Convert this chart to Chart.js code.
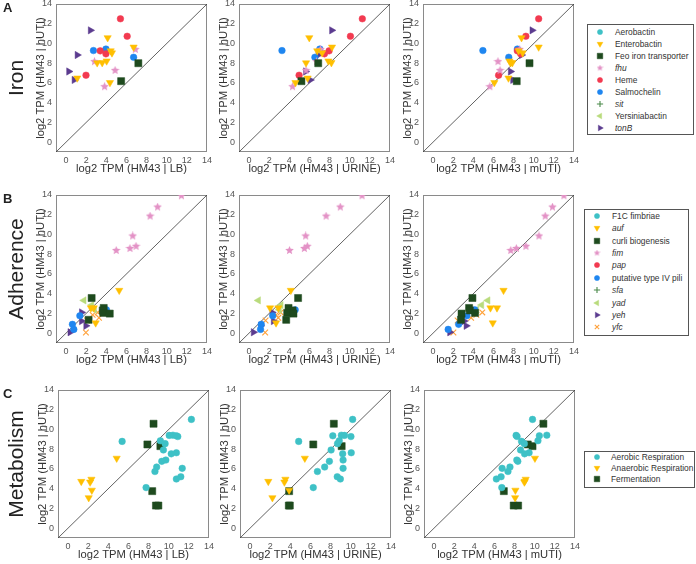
<!DOCTYPE html>
<html><head><meta charset="utf-8">
<script src="https://cdn.jsdelivr.net/npm/chart.js@4.4.1/dist/chart.umd.min.js"></script>
<style>
html,body{margin:0;padding:0;background:#fff;}
body{width:696px;height:564px;overflow:hidden;position:relative;font-family:"Liberation Sans",Arial,Helvetica,sans-serif;}
canvas.p{position:absolute;}
.rowlab{position:absolute;font-size:21px;color:#222;transform:translate(-50%,-50%) rotate(-90deg);white-space:nowrap;}
.letter{position:absolute;font-size:13px;font-weight:bold;color:#222;}
.legend{position:absolute;border:1px solid #555;box-sizing:border-box;background:#fff;}
.lt{position:absolute;font-size:8.4px;line-height:12px;color:#333;white-space:nowrap;}
</style>
</head><body>
<script>
// ---------- tick labels / axes ----------
const tickValues = [0, 2, 4, 6, 8, 10, 12, 14];
const diagonal = [-1, 14];
const conditions = ['LB', 'URINE', 'mUTI'];

// ---------- A: Iron ----------
const aerobactin_hUTI = [], aerobactin_LB = [], aerobactin_URINE = [], aerobactin_mUTI = [];
const enterobactin_hUTI  = [10.58, 9.63, 9.25, 9.04, 8.22, 8.05, 8.03, 6.49, 6.03];
const enterobactin_LB    = [4.13, 6.71, 4.43, 4.56, 4.03, 3.59, 3.09, 1.11, 4.36];
const enterobactin_URINE = [5.98, 8.24, 6.77, 7.26, 7.88, 8.18, 5.66, 5.82, 4.61];
const enterobactin_mUTI  = [8.79, 10.49, 8.5, 8.9, 7.59, 7.88, 7.7, 7.49, 6.09];
const feo_hUTI = [8.0, 6.18], feo_LB = [7.18, 5.47], feo_URINE = [6.87, 5.20], feo_mUTI = [9.58, 8.31];
const fhu_hUTI = [9.4, 8.16, 7.27, 5.62], fhu_LB = [6.88, 2.82, 4.87, 3.83];
const fhu_URINE = [7.1, 6.70, 5.66, 4.32], fhu_mUTI = [8.6, 6.45, 6.65, 5.64];
const heme_hUTI = [12.5, 10.73, 9.25, 8.95, 6.78], heme_LB = [5.40, 6.07, 3.39, 3.96, 1.98];
const heme_URINE = [11.25, 10.07, 7.95, 7.49, 4.97], heme_mUTI = [10.49, 9.22, 8.37, 8.70, 6.51];
const salmochelin_hUTI = [9.43, 9.28, 8.6], salmochelin_LB = [3.96, 2.72, 6.71];
const salmochelin_URINE = [7.03, 3.27, 6.54], salmochelin_mUTI = [8.37, 4.95, 7.52];
const sit_hUTI = [], sit_LB = [], sit_URINE = [], sit_mUTI = [];
const yersiniabactin_hUTI = [], yersiniabactin_LB = [], yersiniabactin_URINE = [], yersiniabactin_mUTI = [];
const tonB_hUTI = [11.33, 8.83, 7.16, 6.30], tonB_LB = [2.42, 1.11, 0.27, 0.81];
const tonB_URINE = [8.21, 6.87, 5.62, 6.08], tonB_mUTI = [9.84, 8.79, 7.69, 7.92];

// ---------- B: Adherence ----------
const f1c_hUTI = [], f1c_LB = [], f1c_URINE = [], f1c_mUTI = [];
const auf_hUTI = [4.33, 2.55, 2.55, 1.03], auf_LB = [5.28, 2.47, 2.75, 2.94];
const auf_URINE = [4.15, 2.09, 2.91, 2.68], auf_mUTI = [7.0, 5.70, 6.35, 5.93];
const curli_hUTI = [3.56, 2.55, 2.3, 2.05, 1.98, 1.35], curli_LB = [2.54, 3.74, 3.64, 3.7, 4.34, 2.24];
const curli_URINE = [4.87, 3.92, 4.32, 3.79, 4.41, 3.69], curli_mUTI = [3.91, 3.58, 3.65, 4.17, 2.83, 2.77];
const fim_hUTI = [13.93, 12.78, 11.86, 9.85, 8.8, 8.58, 8.38];
const fim_LB = [11.46, 9.09, 8.35, 6.62, 6.95, 6.35, 4.98];
const fim_URINE = [11.22, 9.06, 7.65, 5.62, 5.79, 5.49, 4.02];
const fim_mUTI = [13.0, 11.86, 11.14, 10.52, 9.22, 8.27, 7.72];
const pap_hUTI = [], pap_LB = [], pap_URINE = [], pap_mUTI = [];
const pili_hUTI = [2.36, 1.76, 0.89, 0.38], pili_LB = [4.01, 1.37, 0.63, 0.77];
const pili_URINE = [4.58, 2.35, 1.21, 1.14], pili_mUTI = [4.14, 3.36, 2.54, 1.50];
const sfa_hUTI = [], sfa_LB = [], sfa_URINE = [], sfa_mUTI = [];
const yad_hUTI = [3.32, 2.85, 2.38], yad_LB = [1.77, 2.55, 2.81], yad_URINE = [0.92, 3.17, 3.0], yad_mUTI = [5.44, 4.82, 4.33];
const yeh_hUTI = [2.1, 1.22, 0.74, 0.09], yeh_LB = [1.54, 1.54, 1.97, 0.40];
const yeh_URINE = [2.29, 2.42, 1.14, 0.43], yeh_mUTI = [4.14, 3.09, 3.29, 1.66];
const yfc_hUTI = [2.1, 1.85, 1.55, 1.28, 0.06], yfc_LB = [3.14, 2.64, 3.27, 2.1, 1.97];
const yfc_URINE = [3.14, 2.68, 2.9, 1.64, 1.60], yfc_mUTI = [4.89, 4.30, 3.78, 2.44, 2.02];

// ---------- C: Metabolism ----------
const aerobic_hUTI  = [11.02, 9.42, 9.40, 9.36, 9.28, 8.86, 8.79, 8.56, 7.92, 7.64, 7.53, 6.90, 6.77, 6.19, 6.06, 5.74, 5.21, 4.98, 4.11];
const aerobic_LB    = [12.25, 10.42, 10.05, 10.76, 10.90, 9.17, 5.37, 9.64, 9.47, 10.76, 10.25, 9.71, 9.31, 8.80, 11.34, 8.63, 11.20, 10.76, 7.75];
const aerobic_URINE = [10.19, 9.07, 9.38, 8.22, 10.02, 8.86, 4.83, 8.69, 8.05, 10.05, 9.20, 9.24, 7.88, 7.41, 9.24, 6.69, 8.66, 8.97, 6.28];
const aerobic_mUTI  = [9.78, 11.2, 8.15, 10.46, 8.25, 10.32, 8.69, 8.97, 8.59, 9.44, 8.99, 8.22, 8.32, 7.54, 6.76, 7.34, 6.66, 6.19, 6.73];
const anaerobic_hUTI  = [7.08, 4.95, 4.73, 4.66, 3.84, 3.08];
const anaerobic_LB    = [4.83, 2.32, 1.31, 2.19, 2.36, 2.05];
const anaerobic_URINE = [5.44, 3.51, 1.81, 3.41, 3.88, 2.22];
const anaerobic_mUTI  = [10.02, 9.10, 9.0, 8.97, 8.08, 8.05];
const fermentation_hUTI  = [10.58, 8.48, 8.31, 3.75, 2.29, 2.29];
const fermentation_LB    = [8.49, 7.88, 9.17, 8.36, 8.73, 8.97];
const fermentation_URINE = [8.32, 6.28, 9.10, 3.88, 3.85, 3.95];
const fermentation_mUTI  = [10.86, 9.31, 9.78, 6.93, 7.91, 8.35];

// ---------- styling / layout ----------
const FONT = '"Liberation Sans", Arial, Helvetica, sans-serif';
function starImage(color, size) {
  const c = document.createElement('canvas'); c.width = size; c.height = size;
  const g = c.getContext('2d'); const cx = size / 2, cy = size / 2, R = size / 2, r = R * 0.45;
  g.beginPath();
  for (let i = 0; i < 10; i++) { const a = -Math.PI / 2 + i * Math.PI / 5; const rr = i % 2 === 0 ? R : r; g.lineTo(cx + rr * Math.cos(a), cy + rr * Math.sin(a)); }
  g.closePath(); g.fillStyle = color; g.fill(); return c;
}
const STYLES = {
  cyan:   {ps: 'circle',   color: '#3ec1c6', r: 3.3, rot: 0,   bw: 0.5},
  yellow: {ps: 'triangle', color: '#ffbf00', r: 4.2, rot: 180, bw: 0.5},
  dgreen: {ps: 'rect',     color: '#1e4a1e', r: 5.0, rot: 0,   bw: 0.5},
  pink:   {ps: starImage('#e392c6', 9), legendPs: starImage('#e392c6', 7), color: '#e392c6', r: 4, rot: 0, bw: 0},
  red:    {ps: 'circle',   color: '#f23a50', r: 3.3, rot: 0,   bw: 0.5},
  blue:   {ps: 'circle',   color: '#1f86f0', r: 3.3, rot: 0,   bw: 0.5},
  plus:   {ps: 'cross',    color: '#4a8a4a', r: 4.0, rot: 0,   bw: 1.1},
  lgreen: {ps: 'triangle', color: '#b9db7c', r: 4.2, rot: 270, bw: 0.5},
  purple: {ps: 'triangle', color: '#5b3b8f', r: 4.2, rot: 90,  bw: 0.5},
  orange: {ps: 'crossRot', color: '#ffa13a', r: 4.0, rot: 0,   bw: 1.1}
};
function S(name, italic, style, y, lb, ur, mu) { return {name, italic, style, y, x: [lb, ur, mu]}; }

const ROWS = [
  {letter: 'A', label: 'Iron', top: 4, lefts: [56, 239, 423],
   legend: {left: 587, top: 24, width: 107, height: 111, first: 7.7, step: 12.0, markX: 13, textX: 28},
   series: [
     S('Aerobactin', false, 'cyan', aerobactin_hUTI, aerobactin_LB, aerobactin_URINE, aerobactin_mUTI),
     S('Enterobactin', false, 'yellow', enterobactin_hUTI, enterobactin_LB, enterobactin_URINE, enterobactin_mUTI),
     S('Feo iron transporter', false, 'dgreen', feo_hUTI, feo_LB, feo_URINE, feo_mUTI),
     S('fhu', true, 'pink', fhu_hUTI, fhu_LB, fhu_URINE, fhu_mUTI),
     S('Heme', false, 'red', heme_hUTI, heme_LB, heme_URINE, heme_mUTI),
     S('Salmochelin', false, 'blue', salmochelin_hUTI, salmochelin_LB, salmochelin_URINE, salmochelin_mUTI),
     S('sit', true, 'plus', sit_hUTI, sit_LB, sit_URINE, sit_mUTI),
     S('Yersiniabactin', false, 'lgreen', yersiniabactin_hUTI, yersiniabactin_LB, yersiniabactin_URINE, yersiniabactin_mUTI),
     S('tonB', true, 'purple', tonB_hUTI, tonB_LB, tonB_URINE, tonB_mUTI)
   ]},
  {letter: 'B', label: 'Adherence', top: 195, lefts: [56, 239, 423],
   legend: {left: 584, top: 209, width: 105, height: 127, first: 6.7, step: 12.4, markX: 13, textX: 28},
   series: [
     S('F1C fimbriae', false, 'cyan', f1c_hUTI, f1c_LB, f1c_URINE, f1c_mUTI),
     S('auf', true, 'yellow', auf_hUTI, auf_LB, auf_URINE, auf_mUTI),
     S('curli biogenesis', false, 'dgreen', curli_hUTI, curli_LB, curli_URINE, curli_mUTI),
     S('fim', true, 'pink', fim_hUTI, fim_LB, fim_URINE, fim_mUTI),
     S('pap', true, 'red', pap_hUTI, pap_LB, pap_URINE, pap_mUTI),
     S('putative type IV pili', false, 'blue', pili_hUTI, pili_LB, pili_URINE, pili_mUTI),
     S('sfa', true, 'plus', sfa_hUTI, sfa_LB, sfa_URINE, sfa_mUTI),
     S('yad', true, 'lgreen', yad_hUTI, yad_LB, yad_URINE, yad_mUTI),
     S('yeh', true, 'purple', yeh_hUTI, yeh_LB, yeh_URINE, yeh_mUTI),
     S('yfc', true, 'orange', yfc_hUTI, yfc_LB, yfc_URINE, yfc_mUTI)
   ]},
  {letter: 'C', label: 'Metabolism', top: 390, lefts: [58, 240, 424],
   legend: {left: 584, top: 451, width: 111, height: 37, first: 5.7, step: 11.2, markX: 13, textX: 27},
   series: [
     S('Aerobic Respiration', false, 'cyan', aerobic_hUTI, aerobic_LB, aerobic_URINE, aerobic_mUTI),
     S('Anaerobic Respiration', false, 'yellow', anaerobic_hUTI, anaerobic_LB, anaerobic_URINE, anaerobic_mUTI),
     S('Fermentation', false, 'dgreen', fermentation_hUTI, fermentation_LB, fermentation_URINE, fermentation_mUTI)
   ]}
];

const PW = 151, PH = 148, Y_W = 56, X_H = 28, PAD_T = 6, PAD_R = 10;

const boxPlugin = {
  id: 'box',
  beforeDatasetsDraw(chart) {
    const {ctx, chartArea: a} = chart;
    ctx.save(); ctx.strokeStyle = '#8a8a8a'; ctx.lineWidth = 1;
    ctx.strokeRect(Math.round(a.left) + 0.5, Math.round(a.top) + 0.5, Math.round(a.right - a.left) - 1, Math.round(a.bottom - a.top) - 1);
    ctx.restore();
  }
};

function makePanel(row, col) {
  const pl = row.lefts[col], pt = row.top;
  const W = Y_W + PW + PAD_R, H = PAD_T + PH + X_H;
  const cv = document.createElement('canvas');
  cv.className = 'p'; cv.width = W; cv.height = H;
  cv.style.left = (pl - Y_W) + 'px'; cv.style.top = (pt - PAD_T) + 'px';
  cv.style.width = W + 'px'; cv.style.height = H + 'px';
  document.body.appendChild(cv);
  const datasets = row.series.map(s => {
    const st = STYLES[s.style];
    return {
      label: s.name,
      data: s.x[col].map((v, i) => ({x: v, y: s.y[i]})),
      pointStyle: st.ps, pointRadius: st.r, pointRotation: st.rot,
      pointBackgroundColor: st.color, pointBorderColor: st.color, pointBorderWidth: st.bw,
      backgroundColor: st.color, borderColor: st.color, showLine: false, order: 0
    };
  });
  datasets.push({label: 'y = x', data: diagonal.map(v => ({x: v, y: v})), showLine: true,
    borderColor: '#3a3a3a', borderWidth: 0.8, pointRadius: 0, order: 10});
  const tickFont = {size: 9, family: FONT};
  const titleFont = {size: 11.2, family: FONT};
  new Chart(cv, {
    type: 'scatter',
    data: {datasets},
    options: {
      responsive: false, animation: false, devicePixelRatio: 1,
      layout: {padding: {top: PAD_T, right: PAD_R, left: 0, bottom: 0}},
      plugins: {legend: {display: false}, tooltip: {enabled: false}},
      scales: {
        x: {type: 'linear', min: -1, max: 14,
          afterBuildTicks: s => { s.ticks = tickValues.map(v => ({value: v})); },
          afterFit: s => { s.height = X_H; s.paddingLeft = 0; s.paddingRight = 0; },
          grid: {display: false, drawTicks: false}, border: {display: false},
          ticks: {font: tickFont, color: '#555', padding: 3, maxRotation: 0, autoSkip: false},
          title: {display: true, text: 'log2 TPM (HM43 | ' + conditions[col] + ')', font: titleFont, color: '#333', padding: {top: 0, bottom: 4}}
        },
        y: {type: 'linear', min: -1, max: 14,
          afterBuildTicks: s => { s.ticks = tickValues.map(v => ({value: v})); },
          afterFit: s => { s.width = Y_W; s.paddingTop = 0; s.paddingBottom = 0; },
          grid: {display: false, drawTicks: false}, border: {display: false},
          ticks: {font: tickFont, color: '#555', padding: 4, autoSkip: false},
          title: {display: true, text: 'log2 TPM (HM43 | hUTI)', font: titleFont, color: '#333', padding: {top: 34, bottom: 0}}
        }
      }
    },
    plugins: [boxPlugin]
  });
}

function drawMarker(cv, st) {
  const g = cv.getContext('2d');
  g.fillStyle = st.color; g.strokeStyle = st.color; g.lineWidth = st.bw;
  const opts = {pointStyle: st.legendPs || st.ps, radius: st.r * 0.78, rotation: st.rot, borderWidth: st.bw};
  try { Chart.helpers.drawPoint(g, opts, 5, 5); }
  catch (e) { g.beginPath(); g.arc(5, 5, 2.6, 0, Math.PI * 2); g.fill(); }
}

function makeLegend(row) {
  const L = row.legend;
  const box = document.createElement('div'); box.className = 'legend';
  Object.assign(box.style, {left: L.left + 'px', top: L.top + 'px', width: L.width + 'px', height: L.height + 'px'});
  row.series.forEach((s, i) => {
    const cy = L.first + i * L.step - 1;
    const mk = document.createElement('canvas'); mk.width = 10; mk.height = 10;
    mk.style.cssText = 'position:absolute;left:' + (L.markX - 6) + 'px;top:' + (cy - 5) + 'px;width:10px;height:10px;';
    drawMarker(mk, STYLES[s.style]);
    box.appendChild(mk);
    const t = document.createElement('span'); t.className = 'lt'; t.textContent = s.name;
    t.style.left = (L.textX - 1) + 'px'; t.style.top = (cy - 6) + 'px';
    if (s.italic) t.style.fontStyle = 'italic';
    box.appendChild(t);
  });
  document.body.appendChild(box);
}

ROWS.forEach(row => {
  [0, 1, 2].forEach(c => makePanel(row, c));
  makeLegend(row);
  const lab = document.createElement('div'); lab.className = 'rowlab'; lab.textContent = row.label;
  lab.style.left = '16px'; lab.style.top = (row.top + PH / 2) + 'px';
  document.body.appendChild(lab);
  const let_ = document.createElement('div'); let_.className = 'letter'; let_.textContent = row.letter;
  let_.style.left = '3px'; let_.style.top = (row.top - 4) + 'px';
  document.body.appendChild(let_);
});
</script>
</body></html>
